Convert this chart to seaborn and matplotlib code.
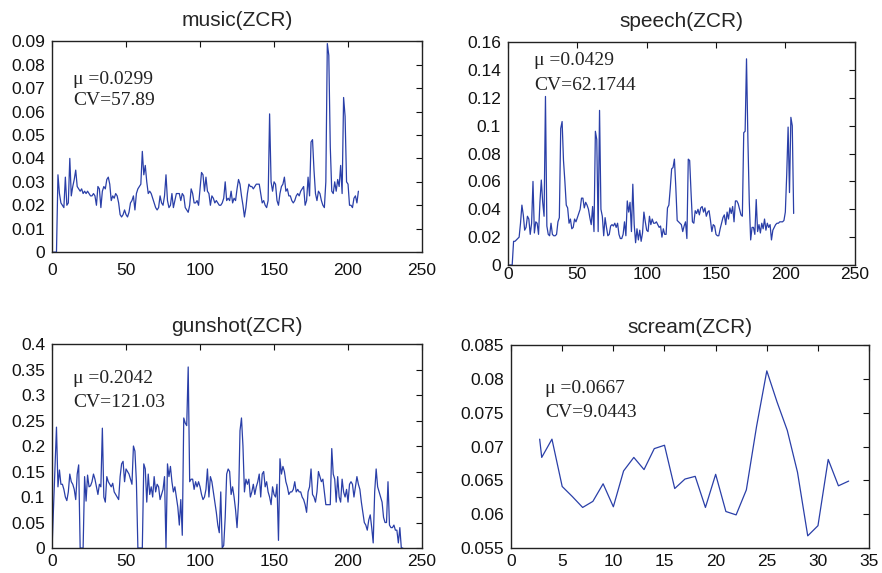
import numpy as np
import pandas as pd
import matplotlib
matplotlib.use("Agg")
from matplotlib import pyplot as plt
from matplotlib.ticker import MultipleLocator, FuncFormatter
import seaborn as sns

# ZCR curves
music = [0, 0, 0, .033, .025, .021, .020, .019, .032, .020,
         .021, .040, .024, .028, .031, .035, .028, .027, .026, .027,
         .025, .026, .025, .026, .025, .024, .024, .025, .024, .020,
         .028, .027, .019, .026, .028, .027, .031, .032, .029, .022,
         .024, .023, .025, .024, .021, .016, .015, .016, .018, .016,
         .015, .017, .021, .022, .024, .018, .025, .027, .028, .029,
         .043, .033, .037, .030, .025, .026, .025, .023, .021, .019,
         .018, .019, .024, .021, .020, .024, .033, .022, .019, .020,
         .025, .019, .022, .025, .025, .025, .022, .025, .024, .019,
         .018, .017, .020, .027, .025, .021, .021, .022, .020, .027,
         .034, .033, .026, .032, .026, .025, .020, .024, .023, .021,
         .022, .021, .020, .020, .021, .023, .030, .022, .023, .022,
         .026, .021, .023, .022, .027, .031, .029, .024, .020, .015,
         .019, .025, .029, .028, .028, .027, .028, .029, .029, .029,
         .025, .021, .022, .020, .019, .022, .059, .030, .026, .030,
         .029, .022, .020, .025, .028, .029, .032, .026, .027, .024,
         .024, .022, .021, .022, .024, .025, .024, .026, .027, .028,
         .020, .022, .032, .024, .047, .048, .035, .025, .022, .026,
         .025, .022, .020, .019, .030, .089, .084, .045, .026, .025,
         .030, .026, .031, .028, .037, .025, .066, .058, .030, .029,
         .020, .020, .019, .023, .024, .021, .026]

speech = [0, 0, 0, .017, .017, .018, .019, .020, .030, .043,
          .036, .025, .027, .035, .033, .022, .030, .060, .023, .031,
          .030, .022, .045, .061, .045, .035, .121, .028, .022, .021,
          .030, .022, .021, .021, .022, .031, .034, .098, .103, .075,
          .060, .043, .041, .030, .033, .026, .027, .033, .031, .034,
          .037, .040, .048, .048, .041, .045, .043, .040, .034, .029,
          .042, .024, .096, .090, .024, .111, .040, .035, .021, .034,
          .027, .021, .022, .028, .029, .028, .030, .027, .030, .022,
          .019, .019, .022, .031, .021, .046, .038, .045, .024, .058,
          .029, .016, .026, .018, .025, .017, .023, .038, .031, .025,
          .024, .035, .029, .033, .030, .030, .031, .029, .027, .028,
          .020, .026, .022, .022, .041, .043, .055, .069, .070, .076,
          .056, .032, .031, .030, .029, .024, .028, .031, .019, .076,
          .075, .052, .031, .030, .039, .037, .040, .036, .041, .042,
          .038, .041, .035, .038, .039, .032, .024, .029, .028, .022,
          .021, .021, .026, .030, .034, .036, .029, .038, .033, .041,
          .037, .042, .031, .046, .046, .044, .040, .036, .035, .095,
          .096, .148, .090, .045, .018, .027, .027, .022, .047, .024,
          .029, .023, .030, .026, .033, .025, .030, .027, .029, .018,
          .025, .027, .029, .030, .030, .031, .031, .031, .032, .038,
          .065, .099, .052, .106, .100, .037]

gunshot = [0, .08, .16, .237, .12, .153, .125, .125, .115, .10,
           .093, .11, .145, .13, .125, .115, .095, .145, .163, 0,
           0, 0, .14, .092, .143, .12, .122, .13, .145, .135,
           .12, .105, .125, .12, .235, .10, .09, .14, .13, .125,
           .12, .127, .11, .105, .10, .095, .14, .165, .17, .13,
           .155, .15, .145, .135, .125, .20, .19, .13, 0, 0,
           0, 0, .165, .155, .09, .145, .105, .12, .10, .14,
           .11, .125, .12, .095, .105, .115, .14, 0, .165, .14,
           .16, .13, .11, .12, .10, .08, .045, .095, .025, .255,
           .245, .24, .355, .13, .135, .135, .115, .13, .12, .13,
           .12, .105, .095, .10, .115, .155, .10, .14, .13, .11,
           .09, .07, .045, .03, .11, 0, .005, .06, .145, .155,
           .15, .105, .12, .10, .075, .04, .09, .23, .255, .20,
           .11, .135, .125, .135, .10, .11, .125, .105, .12, .13,
           .145, .10, .145, .15, .12, .13, .11, .10, .085, .12,
           .105, .10, .125, .015, .175, .145, .16, .15, .13, .12,
           .105, .11, .11, .115, .13, .11, .115, .11, .11, .10,
           .095, .085, .07, .11, .12, .155, .105, .10, .09, .11,
           .15, .14, .13, .135, .11, .085, .085, .085, .085, .195,
           .145, .135, .09, .14, .10, .09, .135, .11, .10, .115,
           .09, .125, .13, .125, .10, .12, .14, .125, .115, .09,
           .07, .05, .045, .035, .055, .065, .04, .01, .11, .155,
           .12, .11, .10, .09, .06, .05, .05, .13, .045, .04,
           .04, .045, .035, .035, .01, .04, 0, 0]

scream_x = [2.8, 3, 4, 5, 6, 7, 8, 9, 10, 11, 12, 13, 14, 15, 16, 17,
            18, 19, 20, 21, 22, 23, 24, 25, 26, 27, 28, 29, 30, 31, 32, 33]
scream = [.0711, .0684, .0711, .0641, .0626, .0610, .0619, .0645, .0611,
          .0664, .0684, .0666, .0697, .0702, .0638, .0652, .0656, .0610,
          .0659, .0604, .0599, .0636, .0730, .0812, .0766, .0724, .0662,
          .0568, .0583, .0681, .0642, .0649]

titles = ['music(ZCR)', 'speech(ZCR)', 'gunshot(ZCR)', 'scream(ZCR)']
mu_text = ['\u03bc =0.0299', '\u03bc =0.0429', '\u03bc =0.2042', '\u03bc =0.0667']
cv_text = ['CV=57.89', 'CV=62.1744', 'CV=121.03', 'CV=9.0443']

sns.set_style('white')
plt.rcParams['font.family'] = ['Liberation Sans', 'DejaVu Sans']

fig = plt.figure(figsize=(8.82, 5.73), dpi=100)
axes = [fig.add_axes([0.059, 0.560, 0.4195, 0.368]),
        fig.add_axes([0.576, 0.5375, 0.393, 0.389]),
        fig.add_axes([0.059, 0.0436, 0.4195, 0.356]),
        fig.add_axes([0.5794, 0.0436, 0.406, 0.354])]

series = [
    pd.DataFrame({'x': np.arange(1, len(music) + 1), 'y': music}),
    pd.DataFrame({'x': np.arange(1, len(speech) + 1), 'y': speech}),
    pd.DataFrame({'x': np.arange(len(gunshot)), 'y': gunshot}),
    pd.DataFrame({'x': scream_x, 'y': scream}),
]
xlims = [(0, 250), (0, 250), (0, 250), (0, 35)]
ylims = [(0, 0.09), (0, 0.16), (0, 0.4), (0.055, 0.085)]
xsteps = [50, 50, 50, 5]
ysteps = [0.01, 0.02, 0.05, 0.005]
text_x = [14, 19, 14, 3.3]
text_y = [(0.0738, 0.0648), (0.147, 0.129), (0.332, 0.286), (0.0786, 0.075)]
xpads = [8, 1.5, 4, 4]
title_pads = [11, 11, 9, 9]

fmt = FuncFormatter(lambda v, p: '%g' % round(v, 4))

for i, ax in enumerate(axes):
    sns.lineplot(data=series[i], x='x', y='y', ax=ax, color='#2a3fa8',
                 linewidth=0.9, estimator=None, sort=False)
    ax.set_xlim(*xlims[i])
    ax.set_ylim(*ylims[i])
    ax.xaxis.set_major_locator(MultipleLocator(xsteps[i]))
    ax.yaxis.set_major_locator(MultipleLocator(ysteps[i]))
    ax.xaxis.set_major_formatter(fmt)
    ax.yaxis.set_major_formatter(fmt)
    ax.set_xlabel('')
    ax.set_ylabel('')
    ax.set_title(titles[i], fontsize=15, pad=title_pads[i])
    ax.tick_params(direction='in', top=True, right=True, length=4,
                   width=0.8, labelsize=12.5, colors='#111111')
    ax.tick_params(axis='x', pad=xpads[i])
    ax.tick_params(axis='y', pad=5)
    for s in ax.spines.values():
        s.set_visible(True)
        s.set_color('#222222')
        s.set_linewidth(1.0)
    ax.text(text_x[i], text_y[i][0], mu_text[i], fontsize=14, va='center',
            family=['Liberation Serif', 'DejaVu Serif'], color='#222222')
    ax.text(text_x[i], text_y[i][1], cv_text[i], fontsize=14, va='center',
            family=['Liberation Serif', 'DejaVu Serif'], color='#222222')

fig.savefig('out.png', dpi=100)
